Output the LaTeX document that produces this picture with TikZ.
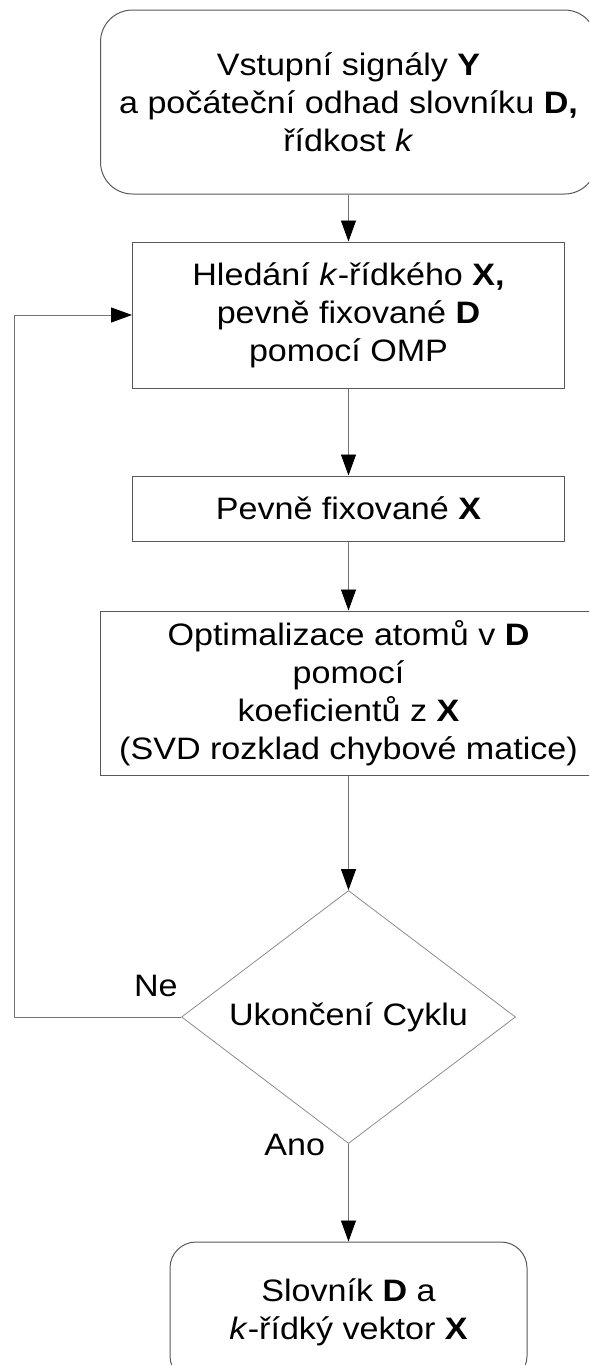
\documentclass[tikz,border=0pt]{standalone}
\usepackage{fontspec}
\setmainfont[FakeStretch=1.1]{Liberation Sans}
\usetikzlibrary{shapes.geometric,arrows.meta,positioning}

\begin{document}
\begin{tikzpicture}[x=1pt,y=-1pt,
  every node/.style={font=\fontsize{31}{38}\selectfont,align=center,inner sep=0pt},
  box/.style={draw=black!65,line width=1pt,minimum width=432pt},
  rbox/.style={box,rounded corners=32pt},
  decision/.style={diamond,draw=black!45,line width=0.8pt,shape aspect=1.32,minimum width=334pt,minimum height=253pt},
  arr/.style={draw=black!55,line width=0.9pt,-{Triangle[length=21pt,width=15pt,color=black,fill=black]}}]

\useasboundingbox (0,0) rectangle (589,1365);
\clip (0,0) rectangle (589,1365);

\node[rbox,minimum width=496pt,minimum height=184pt] (vstup) at (348.5,102) {Vstupní signály \textbf{Y}\\ a počáteční odhad slovníku \textbf{D,}\\ řídkost \textit{k}};
\node[box,minimum height=146pt] (hledani) at (348.5,315) {Hledání \textit{k}-řídkého \textbf{X,}\\ pevně fixované \textbf{D}\\ pomocí OMP};
\node[box,minimum height=65pt] (fixX) at (348.5,508.5) {Pevně fixované \textbf{X}};
\node[box,minimum width=496pt,minimum height=164pt] (optim) at (348.5,693) {Optimalizace atomů v \textbf{D}\\ pomocí\\ koeficientů z \textbf{X}\\ (SVD rozklad chybové matice)};
\node[decision] (konec) at (348.5,1017) {Ukončení Cyklu};
\node[rbox,rounded corners=26pt,minimum width=357pt,minimum height=140pt] (slovnik) at (348.5,1312) {Slovník \textbf{D} a\\ \textit{k}-řídký vektor \textbf{X}};
\coordinate (ohyb) at (14,1017);

\draw[arr] (vstup) -- (hledani);
\draw[arr] (hledani) -- (fixX);
\draw[arr] (fixX) -- (optim);
\draw[arr] (optim) -- (konec);
\draw[arr] (konec) -- node[at start,anchor=east,xshift=-23pt,yshift=-1pt] {Ano} (slovnik);
\draw[arr] (konec.west) -- node[at start,anchor=south east,xshift=-3pt,yshift=20pt] {Ne} (ohyb) |- (hledani.west);

\end{tikzpicture}
\end{document}
